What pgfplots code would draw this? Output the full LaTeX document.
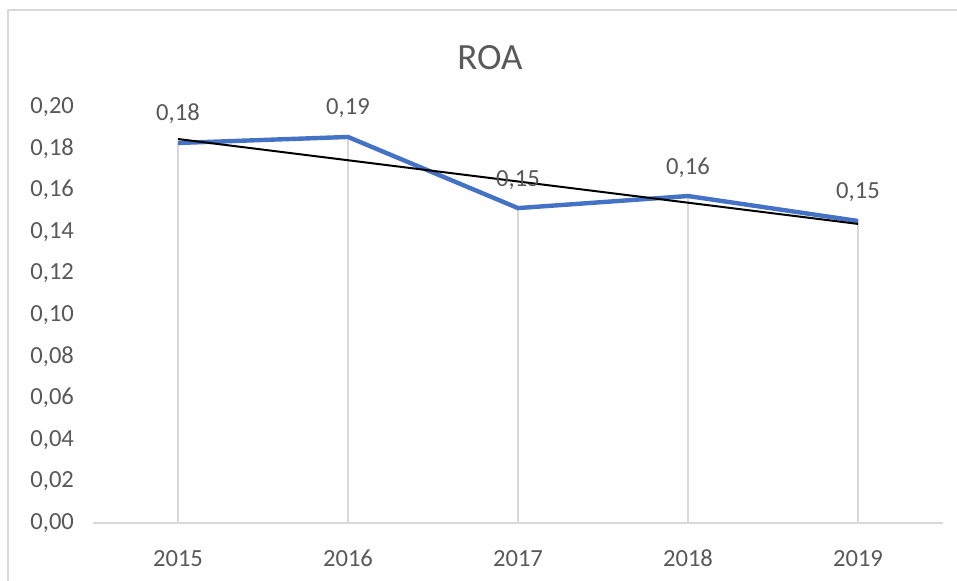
\documentclass[border=0pt]{standalone}
\usepackage{fontspec}
\setmainfont{Carlito}
\usepackage{pgfplots}
\pgfplotsset{compat=1.18}
\definecolor{txt}{HTML}{595959}
\definecolor{gridc}{HTML}{D9D9D9}
\definecolor{roa}{HTML}{4472C4}
\pgfplotstableread{
x y
0 0.1827
1 0.1856
2 0.1514
3 0.1572
4 0.1452
}\roadata
\begin{document}
\begin{tikzpicture}[x=0.5pt,y=0.5pt]
\useasboundingbox (0,0) rectangle (957,580);
\draw[gridc, line width=0.6pt] (8,-10) -- (8,570) -- (975,570);
\node[text=txt, font=\fontsize{18.5}{22}\selectfont] at (490,522) {ROA};
\begin{axis}[
  at={(46.5pt,28.5pt)}, anchor=south west,
  scale only axis, width=425pt, height=208pt,
  xmin=-0.5, xmax=4.5, ymin=0, ymax=0.2,
  xtick={0,1,2,3,4}, xticklabels={2015,2016,2017,2018,2019},
  ytick={0,0.02,0.04,0.06,0.08,0.10,0.12,0.14,0.16,0.18,0.20},
  axis x line=bottom, axis y line=left,
  x axis line style={gridc, line width=0.6pt, -},
  y axis line style={draw=none},
  major tick length=0pt, tick style={draw=none},
  /pgf/number format/assume math mode=true,
  ticklabel style={font=\fontsize{12.3}{14}\selectfont, text=txt},
  yticklabel style={/pgf/number format/fixed, /pgf/number format/fixed zerofill,
    /pgf/number format/precision=2, /pgf/number format/use comma, xshift=-6pt},
  xticklabel style={yshift=-10pt},
  clip=false,
]
\addplot[ycomb, gridc, line width=0.6pt, no marks] table[x=x,y=y] {\roadata};
\addplot[roa, line width=2.2pt, no marks,
  nodes near coords, point meta=y,
  nodes near coords style={font=\fontsize{12.3}{14}\selectfont, text=txt, anchor=south, yshift=5pt,
    /pgf/number format/fixed, /pgf/number format/fixed zerofill,
    /pgf/number format/precision=2, /pgf/number format/use comma,
    /pgf/number format/assume math mode=true}]
  table[x=x,y=y] {\roadata};
\addplot[black, line width=1pt, no marks] coordinates {(0,0.1846) (4,0.1438)};
\end{axis}
\end{tikzpicture}
\end{document}
